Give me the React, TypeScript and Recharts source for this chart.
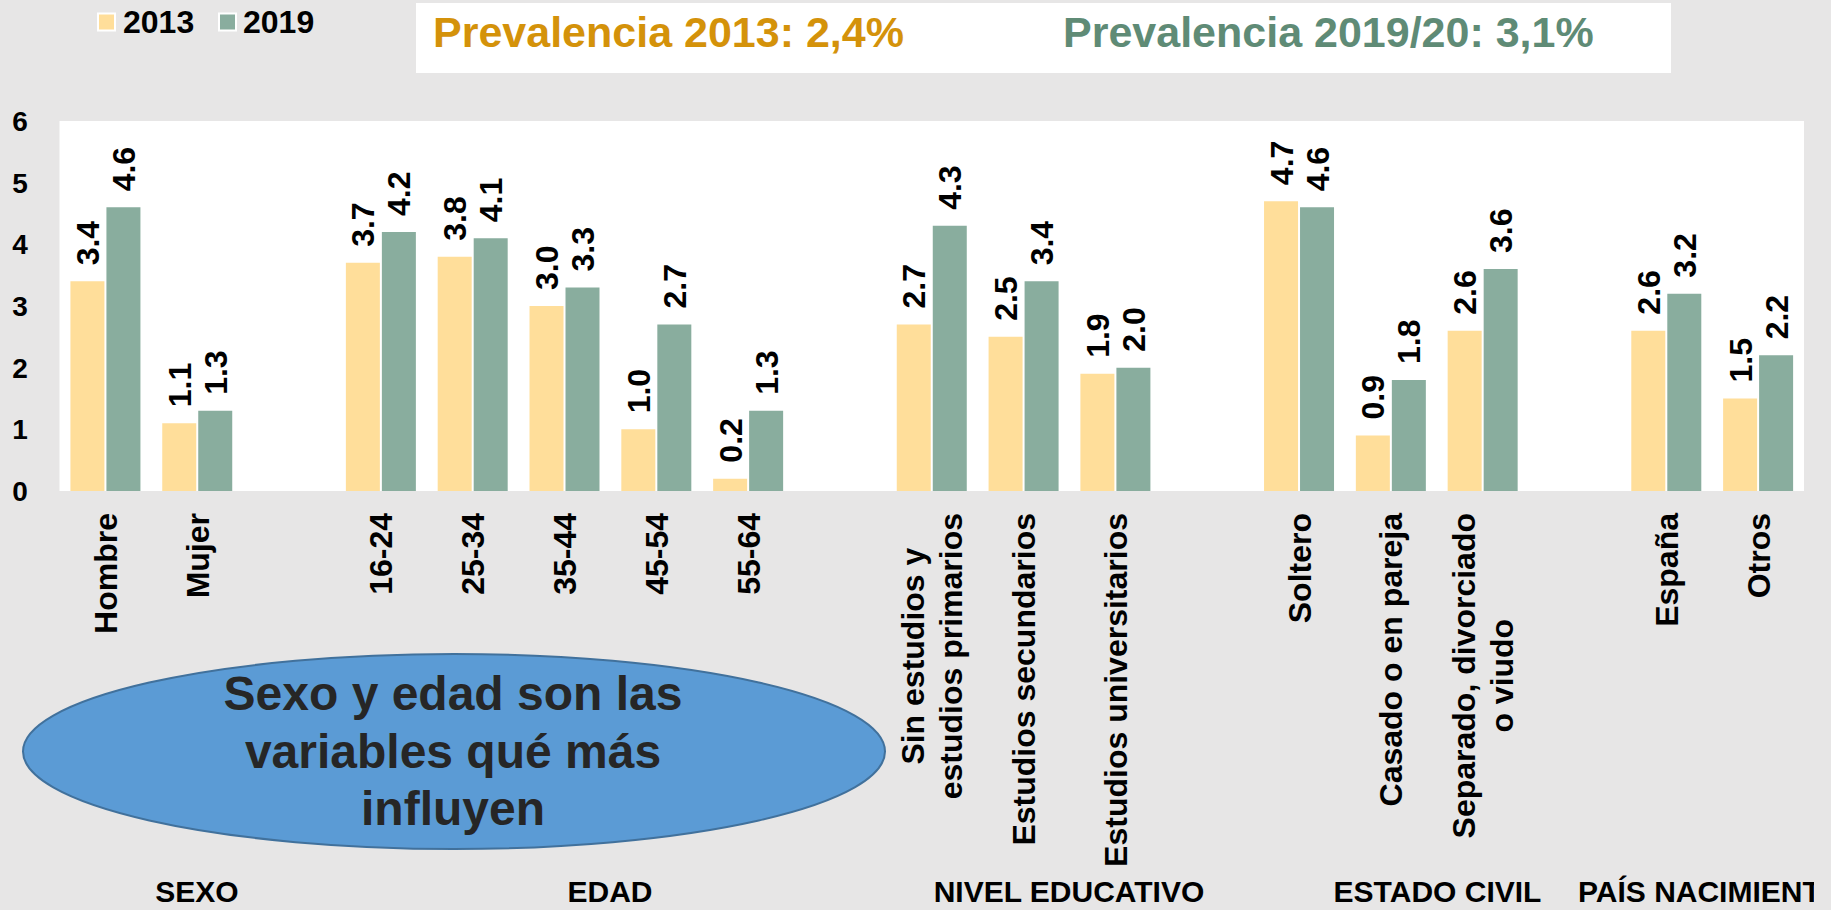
import { BarChart, Bar, XAxis, YAxis, CartesianGrid, LabelList } from "recharts";

const categories = [
  "Hombre",
  "Mujer",
  "",
  "16-24",
  "25-34",
  "35-44",
  "45-54",
  "55-64",
  "",
  "Sin estudios y\nestudios primarios",
  "Estudios secundarios",
  "Estudios universitarios",
  "",
  "Soltero",
  "Casado o en pareja",
  "Separado, divorciado\no viudo",
  "",
  "España",
  "Otros",
];

const values2013 = [3.4, 1.1, null, 3.7, 3.8, 3.0, 1.0, 0.2, null, 2.7, 2.5, 1.9, null, 4.7, 0.9, 2.6, null, 2.6, 1.5];
const values2019 = [4.6, 1.3, null, 4.2, 4.1, 3.3, 2.7, 1.3, null, 4.3, 3.4, 2.0, null, 4.6, 1.8, 3.6, null, 3.2, 2.2];

const yTicks = [0, 1, 2, 3, 4, 5, 6];

const groupLabels = ["SEXO", "EDAD", "NIVEL EDUCATIVO", "ESTADO CIVIL", "PAÍS NACIMIENTO"];
const prevalence2013 = "Prevalencia 2013: 2,4%";
const prevalence2019 = "Prevalencia 2019/20: 3,1%";
const calloutLines = ["Sexo y edad son las", "variables qué más", "influyen"];

const W = 1831;
const H = 910;
const PLOT_TOP = 121;
const PLOT_BOTTOM = 491;
const PLOT_LEFT = 59.5;
const PLOT_RIGHT = 1804;
const FONT = "'Liberation Sans', Arial, sans-serif";
const C2013 = "#FFDE9A";
const C2019 = "#89AD9E";

const data = categories.map((name, i) => ({
  key: `c${i}`,
  name,
  y2013: values2013[i],
  y2019: values2019[i],
}));
const nameByKey: Record<string, string> = {};
data.forEach((d) => (nameByKey[d.key] = d.name));

let ctx: CanvasRenderingContext2D | null = null;
function measure(text: string, size: number) {
  if (!ctx && typeof document !== "undefined") {
    ctx = document.createElement("canvas").getContext("2d");
  }
  if (!ctx) return text.length * size * 0.6;
  ctx.font = `bold ${size}px "Liberation Sans", Arial, sans-serif`;
  return ctx.measureText(text).width;
}

function XTick(props: any) {
  const { x, payload } = props;
  const label = nameByKey[payload.value];
  if (!label) return null;
  const fs = 32;
  const lines = label.split("\n");
  const longest = Math.max(...lines.map((l) => measure(l, fs)));
  const top = PLOT_BOTTOM + 22;
  const cy = top + longest / 2;
  return (
    <g>
      {lines.map((ln, i) => {
        const bx = Number(x) + fs * 0.36 + (i - (lines.length - 1) / 2) * 38;
        return (
          <text
            key={i}
            x={bx}
            y={cy}
            transform={`rotate(-90, ${bx}, ${cy})`}
            textAnchor="middle"
            fontFamily={FONT}
            fontWeight="bold"
            fontSize={fs}
            fill="#000"
          >
            {ln}
          </text>
        );
      })}
    </g>
  );
}

function YTick(props: any) {
  const { y, payload } = props;
  return (
    <text x={20} y={y} dy="0.36em" textAnchor="middle" fontFamily={FONT} fontWeight="bold" fontSize={28} fill="#000">
      {payload.value}
    </text>
  );
}

function ValueLabel(props: any) {
  const { x, y, width, value } = props;
  if (value === null || value === undefined) return null;
  const fs = 32;
  const bx = Number(x) + Number(width) / 2 + fs * 0.36;
  const by = Number(y) - 16;
  return (
    <text
      x={bx}
      y={by}
      transform={`rotate(-90, ${bx}, ${by})`}
      textAnchor="start"
      fontFamily={FONT}
      fontWeight="bold"
      fontSize={fs}
      fill="#000"
    >
      {Number(value).toFixed(1)}
    </text>
  );
}

export default function App() {
  const groupPos = [
    { x: 197, anchor: "middle" },
    { x: 610, anchor: "middle" },
    { x: 1069, anchor: "middle" },
    { x: 1437.5, anchor: "middle" },
    { x: 1578, anchor: "start" },
  ];

  return (
    <div
      style={{
        position: "absolute",
        left: 0,
        top: 0,
        width: W,
        height: H,
        background: "#E7E6E6",
        overflow: "hidden",
      }}
    >
      <BarChart
        width={W}
        height={H}
        data={data}
        margin={{ top: PLOT_TOP, right: W - PLOT_RIGHT, bottom: 0, left: 0 }}
        barCategoryGap="11.9%"
        barGap={2}
      >
        <CartesianGrid horizontal={false} vertical={false} fill="#ffffff" stroke="none" />
        <XAxis
          dataKey="key"
          interval={0}
          height={H - PLOT_BOTTOM}
          tickLine={false}
          axisLine={false}
          tick={<XTick />}
        />
        <YAxis
          domain={[0, 6]}
          ticks={yTicks}
          interval={0}
          width={PLOT_LEFT}
          tickLine={false}
          axisLine={false}
          tick={<YTick />}
        />
        <Bar dataKey="y2013" name="2013" fill={C2013} isAnimationActive={false}>
          <LabelList dataKey="y2013" content={<ValueLabel />} />
        </Bar>
        <Bar dataKey="y2019" name="2019" fill={C2019} isAnimationActive={false}>
          <LabelList dataKey="y2019" content={<ValueLabel />} />
        </Bar>
      </BarChart>

      <svg
        width={1814}
        height={H}
        style={{ position: "absolute", left: 0, top: 0, pointerEvents: "none" }}
      >
        {/* legend */}
        <rect x={98} y={13.5} width={17} height={17} fill={C2013} stroke="#fff" strokeWidth={2} />
        <text x={123} y={32.5} fontFamily={FONT} fontWeight="bold" fontSize={32} fill="#000">
          2013
        </text>
        <rect x={219} y={13.5} width={17} height={17} fill={C2019} stroke="#fff" strokeWidth={2} />
        <text x={243} y={32.5} fontFamily={FONT} fontWeight="bold" fontSize={32} fill="#000">
          2019
        </text>

        {/* prevalence box */}
        <rect x={416} y={3} width={1255} height={70} fill="#ffffff" />
        <text x={433} y={46.5} fontFamily={FONT} fontWeight="bold" fontSize={43} fill="#D4920A">
          {prevalence2013}
        </text>
        <text x={1063} y={46.5} fontFamily={FONT} fontWeight="bold" fontSize={43} fill="#5F8B76">
          {prevalence2019}
        </text>

        {/* callout */}
        <ellipse cx={454} cy={751.5} rx={431} ry={97.5} fill="#5B9BD5" stroke="#41719C" strokeWidth={2} />
        {calloutLines.map((ln, i) => (
          <text
            key={i}
            x={453}
            y={710 + i * 57.5}
            textAnchor="middle"
            fontFamily={FONT}
            fontWeight="bold"
            fontSize={48}
            fill="#262626"
          >
            {ln}
          </text>
        ))}

        {/* group labels */}
        {groupLabels.map((g, i) => (
          <text
            key={g}
            x={groupPos[i].x}
            y={902}
            textAnchor={groupPos[i].anchor as any}
            fontFamily={FONT}
            fontWeight="bold"
            fontSize={30}
            fill="#000"
          >
            {g}
          </text>
        ))}
      </svg>
    </div>
  );
}
